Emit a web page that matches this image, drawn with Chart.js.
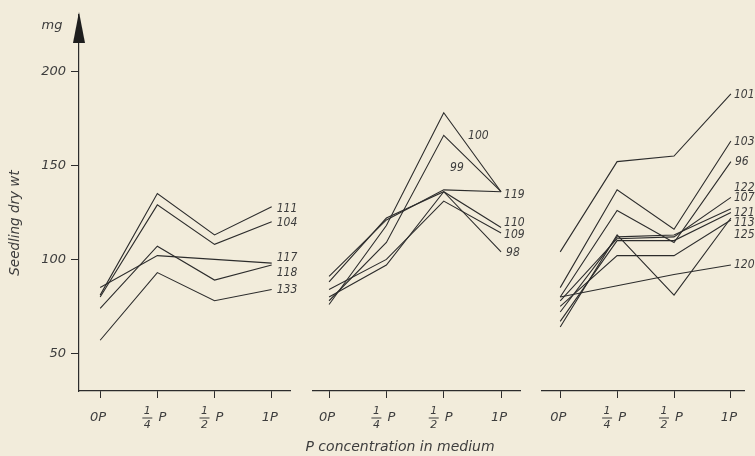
<!DOCTYPE html>
<html>
<head>
<meta charset="utf-8">
<title>Seedling dry weight vs P concentration</title>
<script src="https://cdn.jsdelivr.net/npm/chart.js@4.4.1/dist/chart.umd.min.js"></script>
<style>
  html, body { margin: 0; padding: 0; background: #f2ecdb; }
  #wrap { position: relative; width: 755px; height: 456px; }
  #wrap canvas { position: absolute; left: 0; top: 0; }
</style>
</head>
<body>
<div id="wrap">
  <canvas id="panel1" width="755" height="456"></canvas>
  <canvas id="panel2" width="755" height="456"></canvas>
  <canvas id="panel3" width="755" height="456"></canvas>
</div>
<script>
/* Seedling dry wt (mg) against P concentration, three panels of lines,
   each line tagged with its number at the right. */

var categories = ['0P', '1/4P', '1/2P', '1P'];
var yTicks = [50, 100, 150, 200];

// left panel
var panel1Names = ['111', '104', '117', '118', '133'];
var panel1Values = [
  [81, 135, 113, 128],
  [80, 129, 108, 120],
  [85, 102, 100, 98],
  [74, 107, 89, 97],
  [57, 93, 78, 84]
];

// middle panel
var panel2Names = ['100', '99', '119', '110', '109', '98'];
var panel2Values = [
  [76, 118, 178, 136],
  [78, 109, 166, 136],
  [91, 121, 137, 136],
  [88, 122, 136, 117],
  [84, 100, 131, 114],
  [80, 97, 136, 104]
];

// right panel
var panel3Names = ['101', '103', '96', '122', '107', '121', '113', '125', '120'];
var panel3Values = [
  [104, 152, 155, 188],
  [85, 137, 116, 163],
  [80, 126, 109, 152],
  [78, 111, 112, 133],
  [72, 112, 113, 127],
  [67, 110, 110, 125],
  [64, 113, 81, 122],
  [75, 102, 102, 121],
  [80, 86, 92, 97]
];

// where each number sits relative to the end of its line (px)
var panel1LabelShift = [[5, 2], [5, 1], [5, -5], [5, 8], [5, 0]];
var panel2LabelShift = [[-33, -56], [-51, -24], [3, 3], [3, -5], [3, 2], [5, 1]];
var panel3LabelShift = [[3, 1], [3, 1], [4, 0], [3, -9], [3, -11], [3, 0], [3, 5], [3, 15], [3, 0]];

var INK = '#2c2c2c';
var TEXT = '#3d3d3d';
var WIDE = '"DejaVu Sans", "Liberation Sans", sans-serif';
var NARROW = '"DejaVu Sans Condensed", "Liberation Sans Narrow", "DejaVu Sans", sans-serif';

function italic(size, family) {
  return 'italic ' + size + 'px ' + family;
}

var panelDecor = {
  id: 'panelDecor',
  afterDraw: function (chart, args, opts) {
    var ctx = chart.ctx;
    var xs = chart.scales.x;
    var area = chart.chartArea;
    ctx.save();
    ctx.fillStyle = TEXT;
    ctx.strokeStyle = TEXT;
    ctx.textBaseline = 'middle';
    ctx.textAlign = 'center';

    // category labels, fractions stacked
    var ly = xs.top + 27;
    categories.forEach(function (c, i) {
      var px = xs.getPixelForValue(i);
      var m = c.match(/^(\d)\/(\d)(P)$/);
      if (m) {
        ctx.font = italic(11, WIDE);
        ctx.fillText(m[1], px - 10, ly - 7);
        ctx.fillText(m[2], px - 10, ly + 7);
        ctx.lineWidth = 1;
        ctx.beginPath();
        ctx.moveTo(px - 15, ly);
        ctx.lineTo(px - 5, ly);
        ctx.stroke();
        ctx.font = italic(13, WIDE);
        ctx.fillText(m[3], px + 5, ly);
      } else {
        ctx.font = italic(13, WIDE);
        ctx.fillText(c, px - 2, ly);
      }
    });

    // line numbers
    ctx.textAlign = 'left';
    ctx.font = italic(12, NARROW);
    chart.data.datasets.forEach(function (ds, i) {
      var meta = chart.getDatasetMeta(i);
      var end = meta.data[meta.data.length - 1];
      var s = opts.shifts[i];
      ctx.fillText(ds.label, end.x + s[0], end.y + s[1]);
    });

    if (opts.valueAxis) {
      var ax = area.left;
      // arrow head on the value axis
      ctx.fillStyle = '#1e1e1e';
      ctx.beginPath();
      ctx.moveTo(ax, area.top - 3);
      ctx.lineTo(ax - 6, area.top + 28);
      ctx.lineTo(ax + 6, area.top + 28);
      ctx.closePath();
      ctx.fill();

      ctx.fillStyle = TEXT;
      ctx.textAlign = 'center';
      ctx.font = italic(13, WIDE);
      ctx.fillText('mg', ax - 27, area.top + 11);

      ctx.save();
      ctx.translate(15, 223);
      ctx.rotate(-Math.PI / 2);
      ctx.font = italic(13.5, WIDE);
      ctx.fillText('Seedling dry wt', 0, 0);
      ctx.restore();
    }

    if (opts.caption) {
      ctx.textAlign = 'center';
      ctx.font = italic(14, WIDE);
      ctx.fillText(opts.caption, 400, xs.top + 56);
    }
    ctx.restore();
  }
};

function makePanel(canvasId, names, values, shifts, frame) {
  var datasets = names.map(function (name, i) {
    return {
      label: name,
      data: values[i].map(function (v, k) { return { x: k, y: v }; }),
      borderColor: INK,
      borderWidth: 1.1,
      pointRadius: 0,
      tension: 0,
      fill: false
    };
  });

  return new Chart(document.getElementById(canvasId), {
    type: 'line',
    data: { datasets: datasets },
    options: {
      responsive: false,
      animation: false,
      events: [],
      layout: { padding: { left: frame.padLeft, right: frame.padRight, top: 15, bottom: 0 } },
      plugins: {
        legend: { display: false },
        tooltip: { enabled: false },
        panelDecor: { shifts: shifts, valueAxis: frame.valueAxis, caption: frame.caption }
      },
      scales: {
        x: {
          type: 'linear',
          min: frame.xMin,
          max: frame.xMax,
          afterBuildTicks: function (scale) {
            scale.ticks = categories.map(function (c, i) { return { value: i }; });
          },
          afterFit: function (scale) { scale.height = 65; },
          ticks: { display: false },
          grid: { drawOnChartArea: false, drawTicks: true, tickLength: 7, color: INK, lineWidth: 1 },
          border: { display: true, color: INK, width: 1.2 }
        },
        y: {
          display: frame.valueAxis,
          min: 30,
          max: 230,
          afterBuildTicks: function (scale) {
            scale.ticks = yTicks.map(function (v) { return { value: v }; });
          },
          afterFit: function (scale) { scale.width = frame.valueAxis ? 79 : 0; },
          ticks: {
            color: TEXT,
            padding: 5,
            font: { family: WIDE, size: 13, style: 'italic' }
          },
          grid: { drawOnChartArea: false, drawTicks: true, tickLength: 8, color: INK, lineWidth: 1 },
          border: { display: true, color: INK, width: 1.2 }
        }
      }
    },
    plugins: [panelDecor]
  });
}

makePanel('panel1', panel1Names, panel1Values, panel1LabelShift,
  { padLeft: 0, padRight: 465, xMin: -0.37, xMax: 3.32, valueAxis: true, caption: null });
makePanel('panel2', panel2Names, panel2Values, panel2LabelShift,
  { padLeft: 313, padRight: 235, xMin: -0.28, xMax: 3.33, valueAxis: false,
    caption: 'P concentration in medium' });
makePanel('panel3', panel3Names, panel3Values, panel3LabelShift,
  { padLeft: 542, padRight: 11, xMin: -0.32, xMax: 3.23, valueAxis: false, caption: null });
</script>
</body>
</html>
